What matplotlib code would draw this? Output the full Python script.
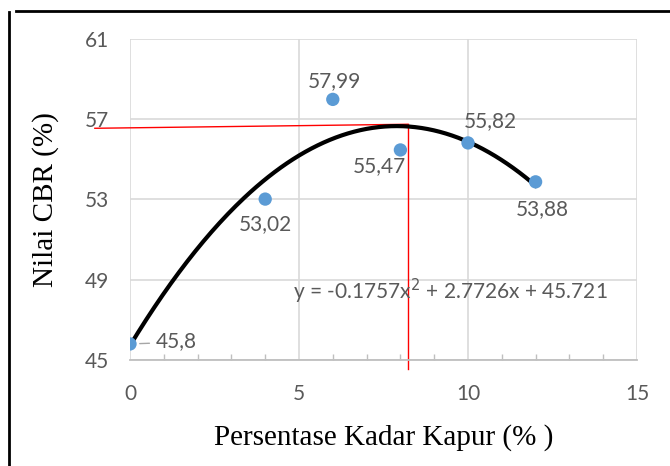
import matplotlib
matplotlib.use("Agg")
import matplotlib.pyplot as plt
import numpy as np
from matplotlib.lines import Line2D

# Data
kadar = [0, 4, 6, 8, 10, 12]
cbr = [45.8, 53.02, 57.99, 55.47, 55.82, 53.88]
labels = ["45,8", "53,02", "57,99", "55,47", "55,82", "53,88"]
label_offsets = [(33, 2), (0, -18), (1.5, 13), (-15, -11.5), (16, 16), (5, -19.5)]
coef = [-0.1757, 2.7726, 45.721]
eq_text = "y = -0.1757x$^2$ + 2.7726x + 45.721"
xticks = [0, 5, 10, 15]
yticks = [45, 49, 53, 57, 61]
red_h_x = [-1.04, 8.22]
red_h_y = [56.55, 56.75]
red_v_x = [8.22, 8.22]
red_v_y = [56.75, 44.55]

fig = plt.figure(figsize=(6.7, 4.66), dpi=100)
ax = fig.add_axes([130/670, 1-360/466, (637-130)/670, (360-39)/466])

tick_font = "Lato"
grey = "#595959"
fs = 15

ax.set_xlim(0, 15)
ax.set_ylim(45, 61)
ax.set_xticks(xticks)
ax.set_yticks(yticks)
ax.set_xticks(np.arange(0, 16, 1), minor=True)
ax.grid(True, which="major", color="#D9D9D9", linewidth=1.2, zorder=0)
for s in ["top", "right", "left"]:
    ax.spines[s].set_visible(False)
ax.spines["bottom"].set_color("#BFBFBF")
ax.spines["bottom"].set_linewidth(1.3)
ax.tick_params(axis="both", which="both", length=0, labelsize=fs, labelcolor=grey)
ax.tick_params(axis="x", which="minor", direction="in", length=4, color="#BFBFBF", width=1)
ax.tick_params(axis="x", which="major", pad=17)
ax.tick_params(axis="y", which="major", pad=15)
for lab in ax.get_xticklabels() + ax.get_yticklabels():
    lab.set_fontfamily(tick_font)

# trendline
xs = np.linspace(0, 12, 200)
ys = np.polyval(coef, xs)
ax.plot(xs, ys, color="black", linewidth=3.0, zorder=3)

# points
ax.scatter(kadar, cbr, s=92, color="#5B9BD5", zorder=4, edgecolors="none")
for i, (x, y, t, off) in enumerate(zip(kadar, cbr, labels, label_offsets)):
    ax.annotate(t, (x, y), xytext=off, textcoords="offset points", ha="center", va="center",
                fontsize=fs, color=grey, fontfamily=tick_font, zorder=5)
# short leader line for the first label
ax.annotate("", (kadar[0], cbr[0]), xytext=(14, 0.5), textcoords="offset points",
            arrowprops=dict(arrowstyle="-", color="#A6A6A6", lw=1, shrinkA=0, shrinkB=7), zorder=5)

# red lines
ax.plot(red_h_x, red_h_y, color="red", linewidth=1.0, clip_on=False, zorder=2)
ax.plot(red_v_x, red_v_y, color="red", linewidth=1.0, clip_on=False, zorder=2)

ax.text(4.81, 48.4, eq_text, fontsize=fs, color=grey, fontfamily=tick_font, va="center", ha="left", zorder=5)

ax.set_xlabel("Persentase Kadar Kapur (% )", fontfamily="Liberation Serif", fontsize=21, color="black", labelpad=15)
ax.set_ylabel("Nilai CBR (%)", fontfamily="Liberation Serif", fontsize=21, color="black", labelpad=19)

# frame lines
fig.add_artist(Line2D([16/670, 1], [1-11/466, 1-11/466], color="black", linewidth=2, transform=fig.transFigure))
fig.add_artist(Line2D([9/670, 9/670], [0, 1-12/466], color="black", linewidth=2, transform=fig.transFigure))

fig.savefig("out.png", dpi=100)
